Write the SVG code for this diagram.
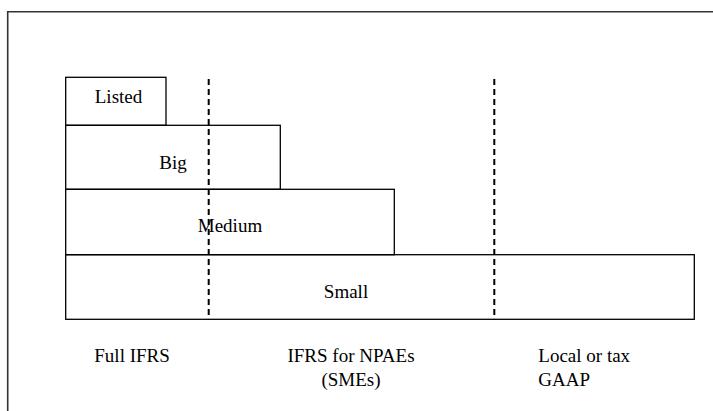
<svg xmlns="http://www.w3.org/2000/svg" width="713" height="411" viewBox="0 0 713 411">
<style>
.box{fill:none;stroke:#000;stroke-width:1.3}
.frame{fill:none;stroke:#333;stroke-width:1.6}
.dash{stroke:#000;stroke-width:2;stroke-dasharray:6 4;fill:none}
</style>
<rect width="713" height="411" fill="#fff"/>
<path class="frame" d="M7.7 430 V11.7 H730"/>
<g font-family="'Liberation Serif', 'Times New Roman', serif" font-size="19" fill="#000">
<g id="small"><rect class="box" x="65.7" y="254.7" width="628.6" height="64.6"/><text x="346" y="297.5" text-anchor="middle">Small</text></g>
<g id="medium"><rect class="box" x="65.7" y="189.3" width="328.6" height="65.4"/><text x="230" y="231.7" text-anchor="middle">Medium</text></g>
<g id="big"><rect class="box" x="65.7" y="125.3" width="214.6" height="64"/><text x="173" y="169.3" text-anchor="middle">Big</text></g>
<g id="listed"><rect class="box" x="65.7" y="77.3" width="100.3" height="48"/><text x="118.5" y="102.7" text-anchor="middle">Listed</text></g>
<g id="labels">
<text x="94.3" y="361.5">Full IFRS</text>
<text x="351" y="361.5" text-anchor="middle">IFRS for NPAEs</text>
<text x="351" y="385.7" text-anchor="middle">(SMEs)</text>
<text x="538.3" y="361.5">Local or tax</text>
<text x="538.3" y="385.7">GAAP</text>
</g>
</g>
<g id="connectors">
<line class="dash" x1="208.7" y1="79" x2="208.7" y2="320"/>
<line class="dash" x1="494.3" y1="79" x2="494.3" y2="320"/>
</g>
</svg>
